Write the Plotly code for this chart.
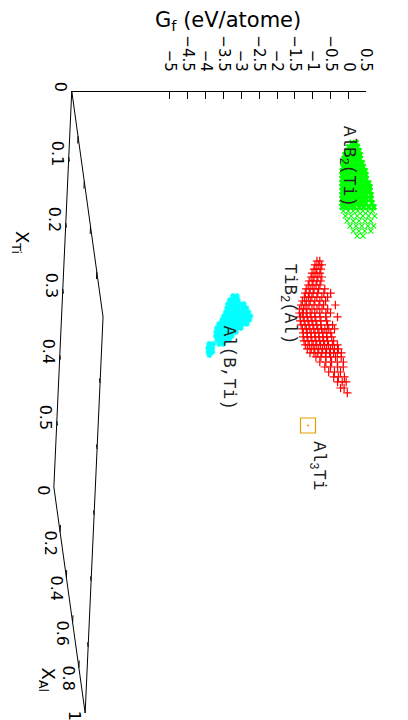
import plotly.graph_objects as go

# ---------------- data ----------------
GF_MIN, GF_MAX = -5.0, 0.5
GF_TICKS = [-5, -4.5, -4, -3.5, -3, -2.5, -2, -1.5, -1, -0.5, 0, 0.5]
XTI_MAX, XAL_MAX = 0.6, 1.0
XTI_TICKS = [0, 0.1, 0.2, 0.3, 0.4, 0.5]
XTI_TICK_TEXT = ["0", "0.1", "0.2", "0.3", "0.4", "0.5"]
XAL_TICKS = [0, 0.2, 0.4, 0.6, 0.8, 1]
XAL_TICK_TEXT = ["0", "0.2", "0.4", "0.6", "0.8", "1"]

# TiB2(Al): one composition per row, several Gf values per row
TIB2_XTI = [0.2181, 0.2273, 0.2366, 0.2458, 0.2550, 0.2642, 0.2734, 0.2826, 0.2919,
            0.3011, 0.3103, 0.3195, 0.3287, 0.3333, 0.3333, 0.3333, 0.3333, 0.3333,
            0.3333, 0.3333, 0.3333, 0.3333, 0.3333, 0.3333, 0.3333, 0.3333, 0.3333,
            0.3333, 0.3333, 0.3333, 0.3333, 0.3333]
TIB2_XAL = [0.1152, 0.1060, 0.0968, 0.0876, 0.0783, 0.0691, 0.0599, 0.0507, 0.0415,
            0.0323, 0.0230, 0.0138, 0.0046, 0.0089, 0.0265, 0.0442, 0.0619, 0.0796,
            0.0973, 0.1150, 0.1327, 0.1504, 0.1681, 0.1858, 0.2035, 0.2257, 0.2478,
            0.2699, 0.2920, 0.3141, 0.3407, 0.3628]
TIB2_GF = [
    [-0.80, -0.72],
    [-0.84, -0.73, -0.65],
    [-0.85, -0.77, -0.66],
    [-0.89, -0.78, -0.67],
    [-0.90, -0.82, -0.71, -0.60],
    [-0.94, -0.83, -0.72, -0.61],
    [-0.95, -0.84, -0.73, -0.62],
    [-0.99, -0.88, -0.77, -0.64, -0.47],
    [-1.00, -0.89, -0.78, -0.65, -0.48, -0.29],
    [-1.01, -0.90, -0.80, -0.66, -0.52, -0.36],
    [-1.05, -0.94, -0.83, -0.70, -0.56, -0.40],
    [-1.07, -0.96, -0.85, -0.71, -0.57, -0.44, -0.11],
    [-1.10, -0.99, -0.89, -0.75, -0.61, -0.47, -0.31],
    [-1.10, -1.02, -0.91, -0.80, -0.67, -0.53, -0.36, -0.23],
    [-1.09, -1.01, -0.90, -0.79, -0.68, -0.54, -0.38, -0.05],
    [-1.11, -1.00, -0.89, -0.78, -0.67, -0.53, -0.37],
    [-1.10, -0.99, -0.88, -0.77, -0.66, -0.55, -0.36, -0.22],
    [-1.08, -0.97, -0.87, -0.76, -0.65, -0.54, -0.45, -0.34, -0.18],
    [-1.07, -0.96, -0.85, -0.74, -0.63, -0.52, -0.41, -0.30],
    [-1.09, -0.98, -0.87, -0.76, -0.65, -0.54, -0.43, -0.29],
    [-1.08, -0.97, -0.86, -0.75, -0.64, -0.53, -0.42, -0.25],
    [-1.06, -0.95, -0.84, -0.74, -0.63, -0.52, -0.41, -0.30, -0.16],
    [-1.02, -0.91, -0.81, -0.70, -0.59, -0.48, -0.37, -0.26, -0.15],
    [-0.96, -0.85, -0.74, -0.63, -0.52, -0.41, -0.30, -0.19, -0.08],
    [-0.81, -0.67, -0.53, -0.40, -0.26, -0.10],
    [-0.72, -0.55, -0.39, -0.23, -0.06],
    [-0.60, -0.44, -0.24, -0.08],
    [-0.51, -0.35, -0.18],
    [-0.39, -0.26, -0.09],
    [-0.30, -0.17, -0.06],
    [-0.24, -0.14],
    [-0.07],
]

# AlB2(Ti)
ALB2_XTI = [0, 0, 0, 0, 0, 0, 0.0016, 0.0108, 0.0200, 0.0293, 0.0385, 0.0477, 0.0569,
            0.0661, 0.0753, 0.0845, 0.0938, 0.1030, 0.1145, 0.1260, 0.1375, 0.1491, 0.1606]
ALB2_XAL = [0.2301, 0.2478, 0.2655, 0.2832, 0.3009, 0.3186, 0.3317, 0.3225, 0.3133,
            0.3041, 0.2949, 0.2856, 0.2764, 0.2672, 0.2580, 0.2488, 0.2396, 0.2304,
            0.2188, 0.2073, 0.1958, 0.1843, 0.1728]
ALB2_GF = [
    [-0.10, 0.01],
    [-0.20, -0.09, 0.03],
    [-0.26, -0.16, -0.05, 0.06],
    [-0.34, -0.23, -0.12, -0.01, 0.08],
    [-0.38, -0.27, -0.16, -0.05, 0.06],
    [-0.42, -0.31, -0.20, -0.09, 0.02, 0.10],
    [-0.43, -0.32, -0.21, -0.10, 0.01, 0.12],
    [-0.44, -0.33, -0.22, -0.11, 0.00, 0.11, 0.19],
    [-0.43, -0.32, -0.21, -0.10, 0.01, 0.12, 0.23],
    [-0.41, -0.30, -0.19, -0.08, 0.03, 0.14, 0.25],
    [-0.40, -0.29, -0.18, -0.07, 0.04, 0.15, 0.26, 0.34],
    [-0.38, -0.27, -0.16, -0.05, 0.06, 0.17, 0.28, 0.39],
    [-0.36, -0.26, -0.15, -0.04, 0.07, 0.18, 0.29, 0.40],
    [-0.35, -0.24, -0.13, -0.02, 0.09, 0.20, 0.31, 0.45],
    [-0.33, -0.22, -0.11, 0.00, 0.11, 0.22, 0.33, 0.46],
    [-0.32, -0.21, -0.10, 0.01, 0.12, 0.23, 0.34, 0.51],
    [-0.30, -0.19, -0.08, 0.03, 0.17, 0.30, 0.44, 0.58],
    [-0.26, -0.12, 0.02, 0.15, 0.29, 0.43, 0.56],
    [-0.18, -0.02, 0.15, 0.31, 0.47, 0.64],
    [-0.11, 0.06, 0.22, 0.39, 0.55],
    [-0.01, 0.16, 0.32, 0.49, 0.65],
    [0.10, 0.26, 0.42, 0.59],
    [0.23, 0.39],
]

# Al(B,Ti)
AL_XTI = [0, 0, 0, 0, 0, 0, 0.0069, 0.0161, 0.0253, 0.0346, 0.0438, 0.0530, 0.0622,
          0.0714, 0.0806, 0.0876]
AL_XAL = [0.9071, 0.9248, 0.9425, 0.9602, 0.9779, 0.9956, 0.9931, 0.9839, 0.9747,
          0.9654, 0.9562, 0.9470, 0.9378, 0.9286, 0.9194, 0.9124]
AL_GF = [
    [-4.03, -3.92],
    [-4.13, -4.02, -3.91],
    [-4.20, -4.09, -3.98, -3.87, -3.76],
    [-4.24, -4.13, -4.02, -3.92, -3.81, -3.70],
    [-4.29, -4.18, -4.07, -3.96, -3.85, -3.74, -3.66],
    [-4.36, -4.25, -4.14, -4.03, -3.92, -3.81, -3.70, -3.62],
    [-4.40, -4.29, -4.18, -4.08, -3.97, -3.86, -3.75, -3.64],
    [-4.47, -4.36, -4.25, -4.14, -4.03, -3.92, -3.81, -3.70],
    [-4.51, -4.40, -4.29, -4.18, -4.07, -3.96, -3.85],
    [-4.52, -4.41, -4.30, -4.19, -4.08, -3.97],
    [-4.51, -4.40, -4.29, -4.18, -4.07],
    [-4.46, -4.35, -4.24, -4.13],
    [-4.67, -4.56, -4.39, -4.28],
    [-4.68, -4.57],
    [-4.66, -4.55],
    [-4.62],
]

# Al3Ti
AL3TI_XTI = [0.25]
AL3TI_XAL = [0.75]
AL3TI_GF = [[-1.58]]

# phase labels: text and the (X_Ti, X_Al, Gf) point where each starts
LABEL_TEXT = ["AlB<sub>2</sub>(Ti)", "TiB<sub>2</sub>(Al)", "Al(B,Ti)", "Al<sub>3</sub>Ti"]
LABEL_XTI = [0.0, 0.2181, 0.0161, 0.2705]
LABEL_XAL = [0.146, 0.1152, 0.9839, 0.75]
LABEL_GF = [-0.15, -1.61, -4.19, -1.30]

# ---------------- view (gnuplot-like 3D view, rotated page) ----------------
W, H = 408, 720
SHIFT_X = 4.5                    # horizontal placement correction of the page
PX_PER_GF = 36.5                 # horizontal pixels per eV/atom
PX_PER_Y = 660.0                 # vertical pixels per projected unit
GF_MAX_PX = 370.0 + SHIFT_X      # column of Gf = GF_MAX
TOP_PX = 91.0                    # row of the Gf axis line / base corner
VIEW_X_TI = -30.5 / PX_PER_GF    # horizontal shift per unit X_Ti (in Gf units)
VIEW_X_AL = 32.0 / PX_PER_GF     # horizontal shift per unit X_Al (in Gf units)
VIEW_Y_AL = 226.0 / PX_PER_Y     # vertical shift per unit X_Al (in X_Ti units)
ZBASE = GF_MIN - 0.5 * (GF_MAX - GF_MIN)   # base plane level (ticslevel 0.5)


def proj(xti, xal, gf):
    return gf + VIEW_X_TI * xti + VIEW_X_AL * xal, xti + VIEW_Y_AL * xal


def cloud(xti_rows, xal_rows, gf_rows, dense_rows=None, w_dense=1.0, w_sparse=1.0):
    xs, ys, ws = [], [], []
    for i, (u, v, gfs) in enumerate(zip(xti_rows, xal_rows, gf_rows)):
        for g in gfs:
            a, b = proj(u, v, g)
            xs.append(a)
            ys.append(b)
            ws.append(w_dense if (dense_rows is None or i < dense_rows) else w_sparse)
    return xs, ys, ws


def paper_x(px):
    return (px + SHIFT_X) / W


def paper_y(py):
    return 1 - py / H


SANS = "DejaVu Sans"
MONO = "Liberation Mono, Courier New, monospace"

fig = go.Figure()

# base parallelogram
corners = [(0, 0), (XTI_MAX, 0), (XTI_MAX, XAL_MAX), (0, XAL_MAX), (0, 0)]
bx, by = zip(*[proj(u, v, ZBASE) for u, v in corners])
fig.add_trace(go.Scatter(x=list(bx), y=list(by), mode="lines",
                         line=dict(color="black", width=1), hoverinfo="skip"))

# base ticks
tx, ty = [], []
TL_AL, TL_TI = 0.02, 0.011
for t in XTI_TICKS[1:]:
    for v0, v1 in [(0, TL_AL), (XAL_MAX, XAL_MAX - TL_AL)]:
        a0, b0 = proj(t, v0, ZBASE)
        a1, b1 = proj(t, v1, ZBASE)
        tx += [a0, a1, None]
        ty += [b0, b1, None]
for s in XAL_TICKS[1:-1]:
    for u0, u1 in [(XTI_MAX, XTI_MAX - TL_TI), (0, TL_TI)]:
        a0, b0 = proj(u0, s, ZBASE)
        a1, b1 = proj(u1, s, ZBASE)
        tx += [a0, a1, None]
        ty += [b0, b1, None]
fig.add_trace(go.Scatter(x=tx, y=ty, mode="lines", line=dict(color="black", width=1),
                         hoverinfo="skip"))

# dummy trace so the Gf axis is drawn
fig.add_trace(go.Scatter(x=[GF_MIN], y=[None], xaxis="x2", yaxis="y", mode="markers",
                         hoverinfo="skip"))

# data clouds
x, y, w = cloud(TIB2_XTI, TIB2_XAL, TIB2_GF, w_dense=1.2)
fig.add_trace(go.Scatter(x=x, y=y, mode="markers",
                         marker=dict(symbol="cross-thin-open", size=6, color="#ff0000",
                                     line=dict(color="#ff0000", width=w))))
x, y, w = cloud(ALB2_XTI, ALB2_XAL, ALB2_GF, dense_rows=17, w_dense=2.3, w_sparse=1.1)
fig.add_trace(go.Scatter(x=x, y=y, mode="markers",
                         marker=dict(symbol="x-thin-open", size=5.2, color="#00ff00",
                                     line=dict(color="#00ff00", width=w))))
x, y, w = cloud(AL_XTI, AL_XAL, AL_GF, w_dense=1.4)
fig.add_trace(go.Scatter(x=x, y=y, mode="markers",
                         marker=dict(symbol="asterisk-open", size=5, color="#00ffff",
                                     line=dict(color="#00ffff", width=w))))
x, y, w = cloud(AL3TI_XTI, AL3TI_XAL, AL3TI_GF, w_dense=1.2)
fig.add_trace(go.Scatter(x=x, y=y, mode="markers",
                         marker=dict(symbol="square-open-dot", size=15, color="#e69f00",
                                     line=dict(color="#e69f00", width=w))))

annotations = []
# phase labels
for txt, u, v, g in zip(LABEL_TEXT, LABEL_XTI, LABEL_XAL, LABEL_GF):
    a, b = proj(u, v, g)
    annotations.append(dict(x=a, y=b, xref="x", yref="y", text=txt, showarrow=False,
                            textangle=90, xanchor="center", yanchor="top",
                            font=dict(family=MONO, size=17.5, color="#222222")))
# base tick labels
for t, lab in zip(XTI_TICKS, XTI_TICK_TEXT):
    a, b = proj(t, 0, ZBASE)
    annotations.append(dict(x=a, y=b, xref="x", yref="y", text=lab, showarrow=False,
                            textangle=90, xanchor="center", yanchor="middle",
                            xshift=-10.5, yshift=4,
                            font=dict(family=SANS, size=16, color="black")))
for s, lab in zip(XAL_TICKS, XAL_TICK_TEXT):
    a, b = proj(XTI_MAX, s, ZBASE)
    annotations.append(dict(x=a, y=b, xref="x", yref="y", text=lab, showarrow=False,
                            textangle=90, xanchor="center", yanchor="top",
                            xshift=-10, yshift=4,
                            font=dict(family=SANS, size=16, color="black")))
# axis titles
annotations.append(dict(x=paper_x(229), y=paper_y(21), xref="paper", yref="paper",
                        text="G<sub>f</sub> (eV/atome)", showarrow=False,
                        xanchor="center", yanchor="middle",
                        font=dict(family=SANS, size=21, color="black")))
annotations.append(dict(x=paper_x(17), y=paper_y(242), xref="paper", yref="paper",
                        text="X<sub>Ti</sub>", showarrow=False, textangle=90,
                        xanchor="center", yanchor="middle",
                        font=dict(family=SANS, size=18, color="black")))
annotations.append(dict(x=paper_x(44), y=paper_y(680), xref="paper", yref="paper",
                        text="X<sub>Al</sub>", showarrow=False, textangle=90,
                        xanchor="center", yanchor="middle",
                        font=dict(family=SANS, size=18, color="black")))

x_lo = GF_MAX + (0 - GF_MAX_PX) / PX_PER_GF
x_hi = GF_MAX + (W - GF_MAX_PX) / PX_PER_GF
y_top = (0 - TOP_PX) / PX_PER_Y
y_bot = (H - TOP_PX) / PX_PER_Y
zbase_px = GF_MAX_PX + (ZBASE - GF_MAX) * PX_PER_GF

fig.update_layout(
    width=W, height=H, margin=dict(l=0, r=0, t=0, b=0),
    paper_bgcolor="white", plot_bgcolor="rgba(0,0,0,0)", showlegend=False,
    xaxis=dict(domain=[0, 1], range=[x_lo, x_hi], visible=False, fixedrange=True),
    yaxis=dict(domain=[0, 1], range=[y_bot, y_top], visible=False, fixedrange=True),
    xaxis2=dict(domain=[zbase_px / W, GF_MAX_PX / W], range=[ZBASE, GF_MAX],
                anchor="free", position=paper_y(TOP_PX), side="top",
                showline=True, linecolor="black", linewidth=1,
                ticks="inside", ticklen=7, tickwidth=1, tickcolor="black",
                tickvals=GF_TICKS, tickangle=90, ticklabelstandoff=14,
                tickfont=dict(family=SANS, size=15, color="black"),
                showgrid=False, zeroline=False, fixedrange=True),
    annotations=annotations,
)

fig.write_html("out.html", config={"displayModeBar": False},
               post_script="document.body.style.margin='0';document.body.style.overflow='hidden';")
